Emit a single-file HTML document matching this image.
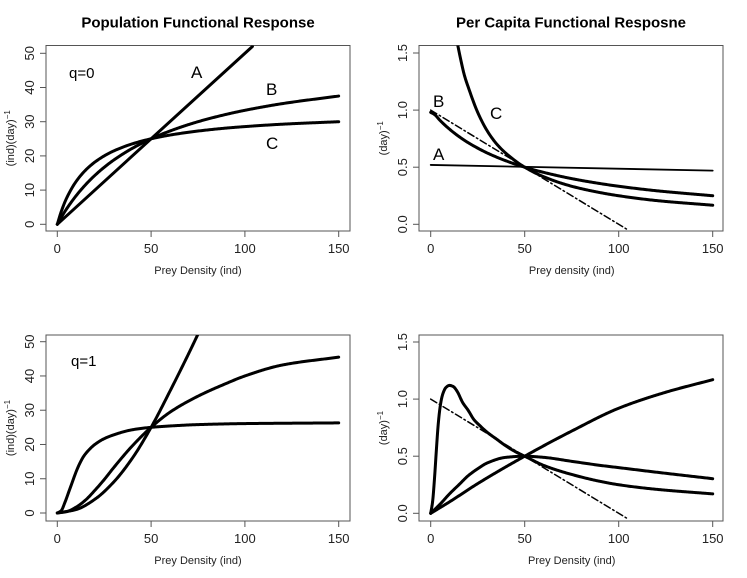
<!DOCTYPE html>
<html><head><meta charset="utf-8"><style>
body{margin:0;background:#fff;}
svg{display:block;font-family:"Liberation Sans",sans-serif;}
</style></head><body>
<svg id="chart" width="747" height="578" viewBox="0 0 747 578"></svg>
<script>
// ---- data ----
const p1N_A=[0,104]; const p1A=[0,52];
const p1N=[0,2,5,10,15,20,25,30,40,50,60,75,90,100,120,150];
const p1B=[0,1.92,4.55,8.33,11.54,14.29,16.67,18.75,22.22,25,27.27,30,32.14,33.33,35.29,37.5];
const p1C=[0,3.57,7.69,12.5,15.79,18.18,20,21.43,23.53,25,26.09,27.27,28.13,28.57,29.27,30];
const p2N_A=[0,150]; const p2A=[0.52,0.47];
const p2B=[0.98,0.962,0.909,0.833,0.769,0.714,0.667,0.625,0.556,0.5,0.455,0.4,0.357,0.333,0.294,0.25];
const p2N_C=[14,16,18,20,25,30,35,40,50,60,75,90,100,120,150];
const p2C=[1.6,1.44,1.3,1.2,0.98,0.82,0.705,0.622,0.5,0.417,0.333,0.278,0.25,0.208,0.167];
const dashN=[0,105]; const dashV=[1.0,-0.05];
const p3N_1=[0,10,20,30,40,50,60,70,80];
const p3D1=[0,1,4,9,16,25,35.5,46.5,58];
const p3N_2=[0,5,10,15,20,25,30,40,50,60,75,90,100,120,150];
const p3D2=[0,0.4,1.7,3.75,6.6,9.75,13.2,19.6,25,29.4,34.1,37.8,40,43.2,45.5];
const p3N_3=[0,2,4,6,8,10,12,14,17,20,25,30,40,50,60,75,100,150];
const p3D3=[0,0.6,3,6,9,12,14.5,16.5,18.5,20,21.7,22.8,24.3,25,25.4,25.8,26.1,26.3];
const p4N_1=[0,10,25,50,75,100,125,150];
const p4D1=[0,0.1,0.26,0.5,0.72,0.92,1.06,1.17];
const p4N_2=[0,5,10,15,20,25,30,40,50,60,75,90,100,120,150];
const p4D2=[0,0.08,0.17,0.25,0.33,0.39,0.44,0.49,0.5,0.49,0.455,0.42,0.4,0.36,0.303];
const p4N_3=[0,1,2,3,4,5,6,7,8,10,12,14,17,20,23,26,30,35,40,45,50,60,75,90,100,120,150];
const p4D3=[0,0.1,0.3,0.55,0.78,0.93,1.02,1.07,1.1,1.12,1.11,1.07,0.97,0.9,0.82,0.77,0.71,0.65,0.59,0.54,0.5,0.42,0.34,0.28,0.25,0.21,0.17];
const xTicks=[0,50,100,150];
const popTicks=[0,10,20,30,40,50];
const pcTicks=[0,0.5,1,1.5];
const pcTickLabels=["0.0","0.5","1.0","1.5"];

const NS="http://www.w3.org/2000/svg";
const svg=document.getElementById('chart');
function mk(tag,attrs,parent){const e=document.createElementNS(NS,tag);for(const k in attrs)e.setAttribute(k,attrs[k]);(parent||svg).appendChild(e);return e;}

function panel(id,box,x0,x150,y0,yTop,yMax,ticks,tickLabels,ylab,xlab,title){
  const g=mk('g',{});
  
  
  const sx=v=>x0+(x150-x0)*v/150;
  const sy=v=>y0-(y0-yTop)*v/yMax;
  const cp=mk('clipPath',{id:'clip-'+id},g);
  mk('rect',{x:box[0],y:box[1],width:box[2]-box[0],height:box[3]-box[1]},cp);
  const fr=mk('rect',{x:box[0],y:box[1],width:box[2]-box[0],height:box[3]-box[1],fill:'none',stroke:'#555','stroke-width':1},g);
  
  
  xTicks.forEach(t=>{
    mk('line',{x1:sx(t),x2:sx(t),y1:box[3],y2:box[3]+6,stroke:'#555'},g);
    const tx=mk('text',{x:sx(t),y:box[3]+22,'text-anchor':'middle','font-size':13,fill:'#222'},g);
    tx.textContent=t;
    
    
  });
  ticks.forEach((t,i)=>{
    mk('line',{x1:box[0],x2:box[0]-6,y1:sy(t),y2:sy(t),stroke:'#555'},g);
    const tx=mk('text',{x:0,y:0,transform:`translate(${box[0]-12},${sy(t)}) rotate(-90)`,'text-anchor':'middle','font-size':13,fill:'#222'},g);
    tx.textContent=tickLabels[i];
    
    
  });
  const xl=mk('text',{x:(x0+x150)/2,y:box[3]+43,'text-anchor':'middle','font-size':11,fill:'#222'},g);
  xl.textContent=xlab;
  
  
  const yl=mk('text',{x:0,y:0,transform:`translate(${box[0]-32},${(box[1]+box[3])/2}) rotate(-90)`,'text-anchor':'middle','font-size':11,fill:'#222'},g);
  yl.innerHTML=ylab;
  
  
  if(title){
    const tt=mk('text',{x:(box[0]+box[2])/2,y:box[1]-18,'text-anchor':'middle','font-size':15,'font-weight':'bold',fill:'#000'},g);
    tt.textContent=title;
    
    
  }
  const cg=mk('g',{'clip-path':`url(#clip-${id})`},g);
  return {g,cg,sx,sy};
}
// monotone cubic (Fritsch-Carlson) interpolation in data space
function monoSample(xs,ys){
  const n=xs.length;
  if(n<3)return xs.map((x,i)=>[x,ys[i]]);
  const d=[],m=new Array(n);
  for(let i=0;i<n-1;i++)d.push((ys[i+1]-ys[i])/(xs[i+1]-xs[i]));
  m[0]=d[0];m[n-1]=d[n-2];
  for(let i=1;i<n-1;i++){
    if(d[i-1]*d[i]<=0)m[i]=0;
    else{const h0=xs[i]-xs[i-1],h1=xs[i+1]-xs[i];const w1=2*h1+h0,w2=h1+2*h0;m[i]=(w1+w2)/(w1/d[i-1]+w2/d[i]);}
  }
  const out=[];
  for(let i=0;i<n-1;i++){
    const h=xs[i+1]-xs[i];const steps=Math.max(4,Math.ceil(h*2));
    for(let s=0;s<steps;s++){
      const t=s/steps,t2=t*t,t3=t2*t;
      const y=(2*t3-3*t2+1)*ys[i]+(t3-2*t2+t)*h*m[i]+(-2*t3+3*t2)*ys[i+1]+(t3-t2)*h*m[i+1];
      out.push([xs[i]+t*h,y]);
    }
  }
  out.push([xs[n-1],ys[n-1]]);
  return out;
}
function curve(P,xs,ys,name,w,dash){
  const pts=monoSample(xs,ys).map(p=>[P.sx(p[0]).toFixed(2),P.sy(p[1]).toFixed(2)]);
  const e=mk('path',{d:'M'+pts.map(p=>p.join(',')).join('L'),fill:'none',stroke:'#000','stroke-width':w,'stroke-linejoin':'round','stroke-linecap':'round'},P.cg);
  if(dash)e.setAttribute('stroke-dasharray',dash);
  
  
}
function label(P,x,y,t,size,name){
  const e=mk('text',{x:x,y:y,'font-size':size,fill:'#000'},P.g);
  e.textContent=t;
  
  
}
const popLab='(ind)(day)<tspan baseline-shift="super" font-size="8">−1</tspan>';
const pcLab='(day)<tspan baseline-shift="super" font-size="8">−1</tspan>';
const popTL=popTicks.map(String);

const P1=panel('panel-population-q0',[46,45.5,350,231],57.3,338.7,224.3,53.3,50,popTicks,popTL,popLab,'Prey Density (ind)','Population Functional Response');
curve(P1,p1N_A,p1A,'curve-a',3);
curve(P1,p1N,p1B,'curve-b',3);
curve(P1,p1N,p1C,'curve-c',3);
label(P1,69,78,'q=0',15,'q-label');
label(P1,191,78,'A',17,'label-a');
label(P1,266,95,'B',17,'label-b');
label(P1,266,149,'C',17,'label-c');

const P2=panel('panel-percapita-q0',[419,45.5,723,231],430.7,712.7,224.3,53,1.5,pcTicks,pcTickLabels,pcLab,'Prey density (ind)','Per Capita Functional Resposne');
curve(P2,p2N_A,p2A,'curve-a',1.8);
curve(P2,p1N,p2B,'curve-b',3);
curve(P2,p2N_C,p2C,'curve-c',3);
curve(P2,dashN,dashV,'reference-line',1.5,'7,3,1.5,3');
label(P2,433,107,'B',17,'label-b');
label(P2,490,119,'C',17,'label-c');
label(P2,433,160,'A',17,'label-a');

const P3=panel('panel-population-q1',[46,335,350,521],57.3,338.7,513,341.7,50,popTicks,popTL,popLab,'Prey Density (ind)',null);
curve(P3,p3N_1,p3D1,'curve-steep',3);
curve(P3,p3N_2,p3D2,'curve-mid',3);
curve(P3,p3N_3,p3D3,'curve-flat',3);
label(P3,71,366,'q=1',15,'q-label');

const P4=panel('panel-percapita-q1',[419,335,723,521],430.7,712.7,513.3,342,1.5,pcTicks,pcTickLabels,pcLab,'Prey Density (ind)',null);
curve(P4,p4N_1,p4D1,'curve-rising',3);
curve(P4,p4N_2,p4D2,'curve-hump',3);
curve(P4,p4N_3,p4D3,'curve-peak',3);
curve(P4,dashN,dashV,'reference-line',1.5,'7,3,1.5,3');
</script>
</body></html>
